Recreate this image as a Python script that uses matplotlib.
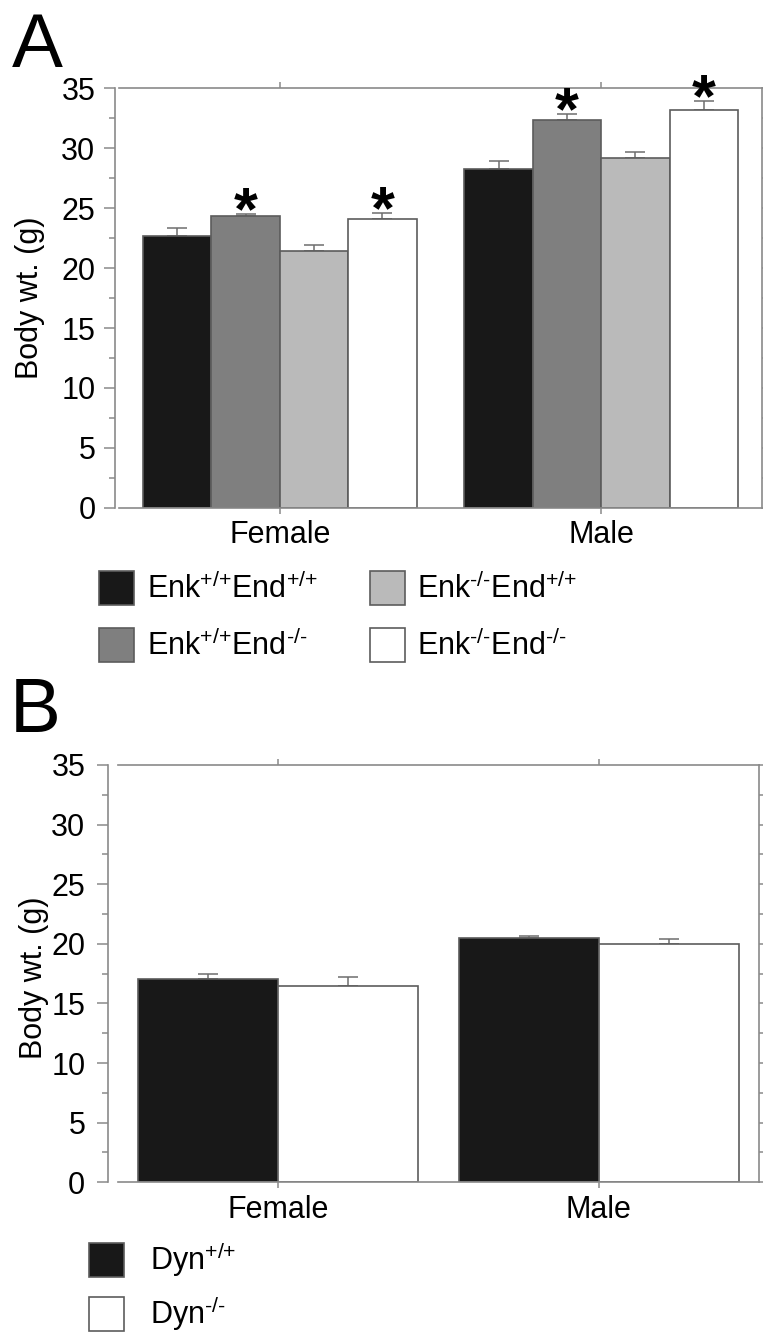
import matplotlib
matplotlib.use('Agg')
import matplotlib.pyplot as plt
import numpy as np

plt.rcParams['font.family'] = ['Liberation Sans', 'DejaVu Sans']
plt.rcParams['mathtext.fontset'] = 'custom'
plt.rcParams['mathtext.rm'] = 'Liberation Sans'
plt.rcParams['mathtext.it'] = 'Liberation Sans:italic'
plt.rcParams['mathtext.bf'] = 'Liberation Sans:bold'

# ---- data ----
sexes = ['Female', 'Male']

# panel A: enkephalin / endorphin genotypes
enk_labels = [r'Enk$^{\text{+/+}}$End$^{\text{+/+}}$',
              r'Enk$^{\text{+/+}}$End$^{\text{-/-}}$',
              r'Enk$^{\text{-/-}}$End$^{\text{+/+}}$',
              r'Enk$^{\text{-/-}}$End$^{\text{-/-}}$']
enk_means = [[22.7, 28.25],   # Enk+/+End+/+
             [24.3, 32.3],    # Enk+/+End-/-
             [21.4, 29.2],    # Enk-/-End+/+
             [24.1, 33.2]]    # Enk-/-End-/-
enk_sem = [[0.65, 0.7],
           [0.2, 0.5],
           [0.5, 0.45],
           [0.5, 0.75]]
enk_signif = [[False, False],
              [True, True],
              [False, False],
              [True, True]]

# panel B: dynorphin genotypes
dyn_labels = [r'Dyn$^{\text{+/+}}$', r'Dyn$^{\text{-/-}}$']
dyn_means = [[17.05, 20.5],
             [16.5, 19.95]]
dyn_sem = [[0.4, 0.13],
           [0.75, 0.45]]

colors4 = ['#181818', '#7f7f7f', '#bababa', '#ffffff']
colors2 = ['#181818', '#ffffff']
edge = '#5c5c5c'
spine_c = '#8a8a8a'
fs = 22

fig = plt.figure(figsize=(7.63, 13.32), dpi=100)
axA = fig.add_axes([119 / 763, 1 - 508 / 1332, 643 / 763, 420 / 1332])
axB = fig.add_axes([118 / 763, 1 - 1182.3 / 1332, 641 / 763, 417.3 / 1332])


def style(ax, left_offset, lab_pad):
    ax.set_xlim(-0.5, 1.5)
    ax.set_ylim(0, 35)
    ax.set_yticks(np.arange(0, 36, 5))
    ax.set_yticks(np.arange(2.5, 35, 5), minor=True)
    ax.set_xticks([0, 1])
    ax.set_xticklabels(sexes)
    for s in ax.spines.values():
        s.set_color(spine_c)
        s.set_linewidth(1.2)
    ax.spines['left'].set_position(('outward', left_offset))
    ax.tick_params(axis='y', which='major', length=8, width=1.1, color=spine_c,
                   labelsize=fs, pad=lab_pad, right=True)
    ax.tick_params(axis='y', which='minor', length=4, width=1.1, color=spine_c, right=True)
    ax.tick_params(axis='x', length=4, width=1.1, color=spine_c, labelsize=fs,
                   pad=5, top=True)
    ax.set_ylabel('Body wt. (g)', fontsize=fs)


x = np.arange(len(sexes))

# ---- panel A ----
w = 0.213
bars_a = []
for i in range(4):
    pos = x + (i - 1.5) * w
    b = axA.bar(pos, enk_means[i], w, color=colors4[i], edgecolor=edge, linewidth=1.2,
                zorder=2)
    bars_a.append(b)
    axA.errorbar(pos, enk_means[i], yerr=[np.zeros(2), enk_sem[i]], fmt='none',
                 ecolor='#6e6e6e', elinewidth=1.1, capsize=7, capthick=1.1, zorder=1)
    for j in range(2):
        if enk_signif[i][j]:
            axA.text(pos[j], enk_means[i][j] + enk_sem[i][j] - 2.35, '*', ha='center',
                     va='bottom', fontsize=44, fontweight='bold', clip_on=False)

style(axA, 3, 6)
axA.yaxis.set_label_coords(-0.115, 0.5)

fig.legend([b[0] for b in bars_a], enk_labels, ncol=2, loc='upper left',
           bbox_to_anchor=(99 / 763, 1 - 571 / 1332), frameon=False, fontsize=fs,
           borderpad=0, borderaxespad=0, handlelength=1.145, handleheight=1.34,
           handletextpad=0.42, labelspacing=0.75, columnspacing=1.7)

# ---- panel B ----
w2 = 0.4375
bars_b = []
for i in range(2):
    pos = x + (i - 0.5) * w2
    b = axB.bar(pos, dyn_means[i], w2, color=colors2[i], edgecolor=edge, linewidth=1.2,
                zorder=2)
    bars_b.append(b)
    axB.errorbar(pos, dyn_means[i], yerr=[np.zeros(2), dyn_sem[i]], fmt='none',
                 ecolor='#6e6e6e', elinewidth=1.1, capsize=7, capthick=1.1, zorder=1)

style(axB, 7, 8.5)
axB.yaxis.set_label_coords(-0.107, 0.49)

fig.legend([b[0] for b in bars_b], dyn_labels, ncol=1, loc='upper left',
           bbox_to_anchor=(89 / 763, 1 - 1240 / 1332), frameon=False, fontsize=fs,
           borderpad=0, borderaxespad=0, handlelength=1.145, handleheight=1.34,
           handletextpad=0.85, labelspacing=0.5)

# panel letters
fig.text(12 / 763, 1 - 67 / 1332, 'A', fontsize=55, va='baseline', ha='left')
fig.text(10 / 763, 1 - 732 / 1332, 'B', fontsize=55, va='baseline', ha='left')

fig.savefig('out.png', dpi=100)
